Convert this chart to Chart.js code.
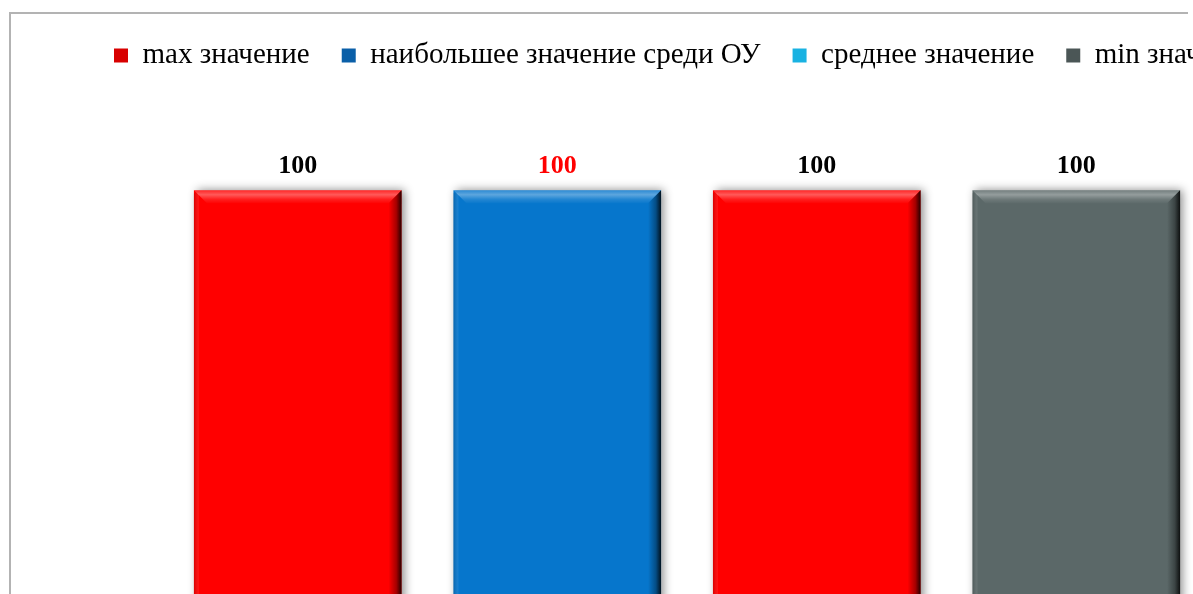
<!DOCTYPE html>
<html>
<head>
<meta charset="utf-8">
<script src="https://cdn.jsdelivr.net/npm/chart.js@4"></script>
<style>
  html, body { margin: 0; padding: 0; background: #fff; overflow: hidden; width: 1193px; height: 594px; }
  #frame { position: absolute; left: 9px; top: 12px; width: 1179px; height: 700px; box-sizing: border-box;
           border-top: 2px solid #b3b3b3; border-left: 2px solid #b3b3b3; }
  #wrap { position: absolute; left: 0; top: 0; width: 1500px; height: 741px; }
</style>
</head>
<body>
<div id="frame"></div>
<div id="wrap"><canvas id="myChart"></canvas></div>
<script>
// data
const categories = ['']
const seriesNames = ['max значение', 'наибольшее значение среди ОУ', 'среднее значение', 'min значение']
const maxValues = [100]
const topSchoolValues = [100]
const avgValues = [100]
const minValues = [100]
const axisMax = 120

// styles
const barColors = ['#ff0000', '#0676cc', '#ff0000', '#5b6868']
const legendColors = ['#d80000', '#0a5fa8', '#19b2e2', '#4b5656']
const labelColors = ['#000000', '#ff0000', '#000000', '#000000']

const shadowPlugin = {
  id: 'barShadow',
  beforeDatasetDraw(chart) {
    const ctx = chart.ctx
    ctx.save()
    ctx.shadowColor = 'rgba(0,0,0,0.45)'
    ctx.shadowBlur = 9
    ctx.shadowOffsetX = 3
    ctx.shadowOffsetY = 0
  },
  afterDatasetDraw(chart, args) {
    const ctx = chart.ctx
    ctx.restore()
    // bevel look on each bar
    args.meta.data.forEach((bar) => {
      const w = bar.width
      const l = bar.x - w / 2
      const r = bar.x + w / 2
      const t = bar.y
      const b = Math.max(bar.base, t)
      const e = 13
      ctx.save()
      // top bevel
      let g = ctx.createLinearGradient(0, t, 0, t + e)
      g.addColorStop(0, 'rgba(255,255,255,0.15)')
      g.addColorStop(0.35, 'rgba(255,255,255,0.35)')
      g.addColorStop(0.7, 'rgba(255,255,255,0.12)')
      g.addColorStop(1, 'rgba(255,255,255,0.02)')
      ctx.fillStyle = g
      ctx.beginPath()
      ctx.moveTo(l, t)
      ctx.lineTo(r, t)
      ctx.lineTo(r - e, t + e)
      ctx.lineTo(l + e, t + e)
      ctx.closePath()
      ctx.fill()
      // right edge darkening
      g = ctx.createLinearGradient(r - e, 0, r, 0)
      g.addColorStop(0, 'rgba(0,0,0,0)')
      g.addColorStop(0.6, 'rgba(0,0,0,0.35)')
      g.addColorStop(1, 'rgba(0,0,0,0.85)')
      ctx.fillStyle = g
      ctx.beginPath()
      ctx.moveTo(r, t)
      ctx.lineTo(r, b)
      ctx.lineTo(r - e, b)
      ctx.lineTo(r - e, t + e)
      ctx.closePath()
      ctx.fill()
      // left edge
      g = ctx.createLinearGradient(l, 0, l + 5, 0)
      g.addColorStop(0, 'rgba(0,0,0,0.15)')
      g.addColorStop(1, 'rgba(255,255,255,0.08)')
      ctx.fillStyle = g
      ctx.fillRect(l, t + 3, 5, b - t - 3)
      ctx.restore()
    })
  }
}

const valueLabels = {
  id: 'valueLabels',
  afterDatasetsDraw(chart) {
    const ctx = chart.ctx
    ctx.save()
    ctx.font = 'bold 26px "Liberation Serif"'
    ctx.textAlign = 'center'
    ctx.textBaseline = 'alphabetic'
    chart.data.datasets.forEach((ds, i) => {
      chart.getDatasetMeta(i).data.forEach((bar, j) => {
        ctx.fillStyle = labelColors[i]
        ctx.fillText(ds.data[j], bar.x, bar.y - 17)
      })
    })
    ctx.restore()
  }
}

const seriesData = [maxValues, topSchoolValues, avgValues, minValues]

const data = {
  labels: categories,
  datasets: seriesNames.map((name, i) => ({
    label: name,
    data: seriesData[i],
    backgroundColor: barColors[i],
    borderWidth: 0,
    barPercentage: 0.8,
    categoryPercentage: 0.8579
  }))
}

const config = {
  type: 'bar',
  data: data,
  options: {
    responsive: true,
    maintainAspectRatio: false,
    animation: false,
    devicePixelRatio: 1,
    layout: { padding: { left: 82, top: 9, right: 0, bottom: 0 } },
    plugins: {
      tooltip: { enabled: false },
      legend: {
        position: 'top',
        align: 'start',
        labels: {
          boxWidth: 14,
          boxHeight: 14,
          padding: 32,
          color: '#000',
          font: { family: 'Liberation Serif', size: 29 },
          generateLabels: (chart) => chart.data.datasets.map((ds, i) => ({
            text: ds.label,
            fillStyle: legendColors[i],
            strokeStyle: legendColors[i],
            lineWidth: 0,
            hidden: !chart.isDatasetVisible(i),
            datasetIndex: i
          }))
        }
      }
    },
    scales: {
      x: { display: false },
      y: {
        position: 'right',
        min: 0,
        max: axisMax,
        grid: { display: false },
        border: { display: false },
        ticks: { display: false },
        afterFit(scale) { scale.width = 208 }
      }
    }
  },
  plugins: [shadowPlugin, valueLabels]
}

const myChart = new Chart(document.getElementById('myChart'), config)
</script>
</body>
</html>
